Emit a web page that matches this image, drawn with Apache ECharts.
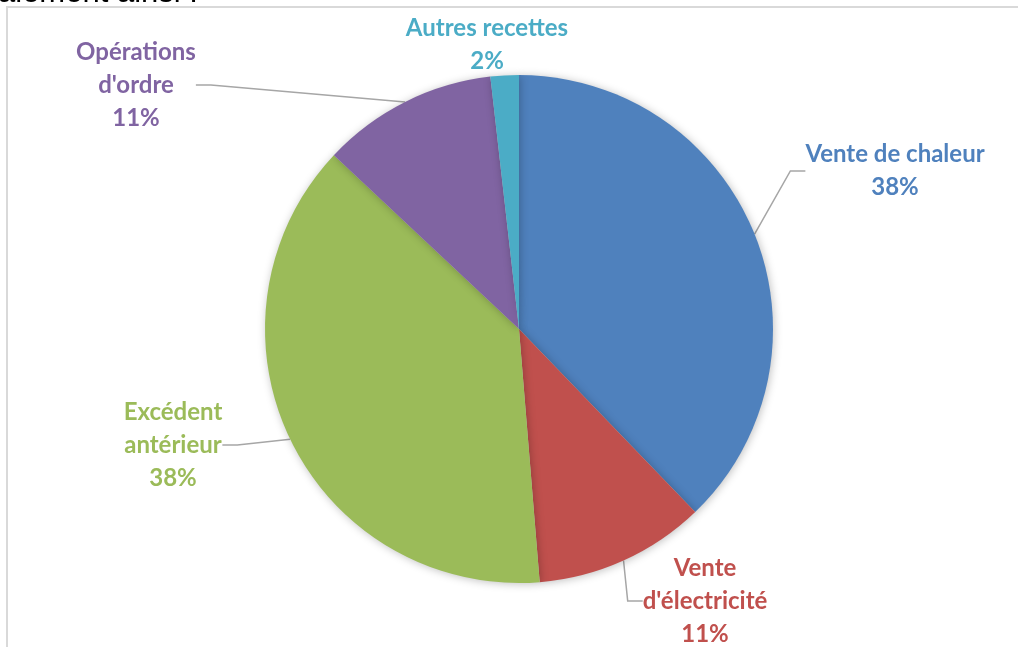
<!DOCTYPE html>
<html>
<head>
<meta charset="utf-8">
<script src="https://cdn.jsdelivr.net/npm/echarts@6/dist/echarts.min.js"></script>
<style>html,body{margin:0;padding:0;background:#fff}#c{width:1018px;height:647px}</style>
</head>
<body>
<div id="c"></div>
<script>
var categories = ["Vente de chaleur", "Vente\nd'électricité", "Excédent\nantérieur", "Opérations\nd'ordre", "Autres recettes"];
var values = [37.8, 10.9, 38.3, 11.2, 1.8];
var colors = ['#4F81BD', '#C0504D', '#9BBB59', '#8064A2', '#4BACC6'];
var labelPos = [[895, 171], [705, 601], [173, 445], [136, 85], [487, 45]];

var chart = echarts.init(document.getElementById('c'), null, {renderer: 'canvas'});
chart.setOption({
  animation: false,
  backgroundColor: '#fff',
  graphic: [
    {type: 'rect', shape: {x: 7, y: 7, width: 1100, height: 700}, style: {fill: 'none', stroke: '#d9d9d9', lineWidth: 2}, silent: true},
    {type: 'text', x: -2, y: 9, style: {text: 'alement ainsi :', font: '31px "Liberation Sans"', fill: '#000', verticalAlign: 'bottom', align: 'left'}, silent: true}
  ],
  series: [{
    type: 'pie',
    center: [519, 329],
    radius: 254,
    startAngle: 90,
    clockwise: true,
    percentPrecision: 0,
    data: categories.map(function (c, i) {
      return {
        name: c, value: values[i],
        itemStyle: {color: colors[i]},
        label: {color: colors[i]},
        labelLine: {show: i !== 4}
      };
    }),
    itemStyle: {shadowBlur: 8, shadowColor: 'rgba(0,0,0,0.25)', shadowOffsetX: 1, shadowOffsetY: 1},
    label: {
      show: true,
      position: 'outside',
      formatter: '{b}\n{d}%',
      fontFamily: 'Lato',
      fontWeight: 'bold',
      fontSize: 24,
      lineHeight: 33,
      align: 'center'
    },
    labelLine: {show: true, length: 20, length2: 15, lineStyle: {color: '#a6a6a6', width: 1.5}},
    labelLayout: function (p) {
      var pos = labelPos[p.dataIndex];
      return {x: pos[0], y: pos[1], align: 'center', verticalAlign: 'middle'};
    }
  }]
});
</script>
</body>
</html>
